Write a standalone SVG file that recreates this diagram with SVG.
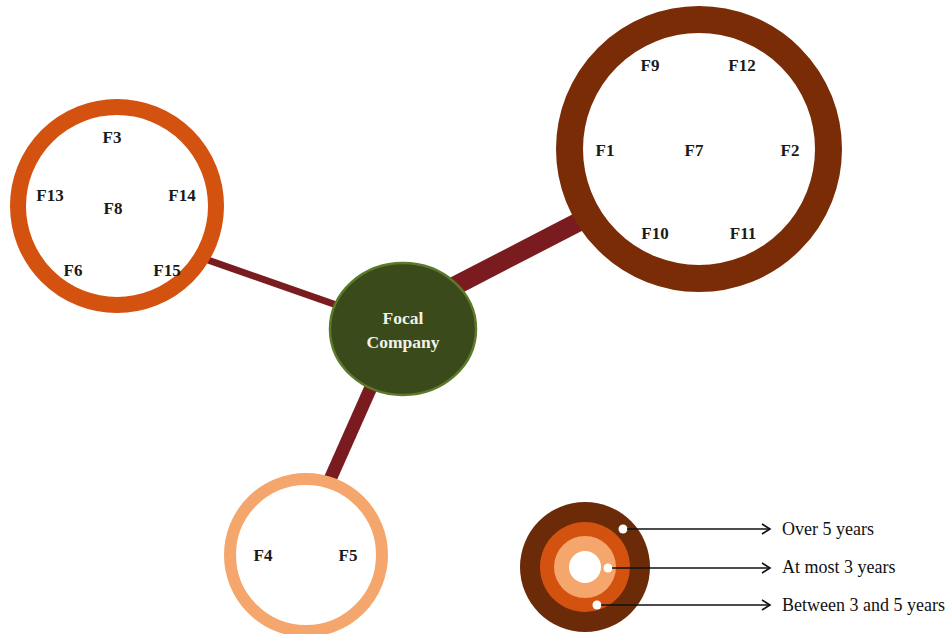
<svg xmlns="http://www.w3.org/2000/svg" width="951" height="634" viewBox="0 0 951 634">
<style>
.lbl{font-family:"Liberation Serif","Times New Roman",serif;font-size:17px;font-weight:bold;fill:#1a1a1a;text-anchor:middle}
.focal{font-family:"Liberation Serif","Times New Roman",serif;font-size:17.5px;font-weight:bold;fill:#F2F2E6;text-anchor:middle}
.leg{font-family:"Liberation Serif","Times New Roman",serif;font-size:18px;fill:#111}
.conn{stroke:#7A1C1F;stroke-linecap:butt;fill:none}
.arrow{stroke:#111;stroke-width:1.6;fill:none}
.dot{fill:#fff}
</style>
<defs>
<marker id="open" markerWidth="12" markerHeight="12" refX="10" refY="6" orient="auto" markerUnits="userSpaceOnUse">
<path d="M2,1 L10,6 L2,11" fill="none" stroke="#111" stroke-width="1.6"/>
</marker>
</defs>
<rect width="951" height="634" fill="#fff"/>
<g id="connectors">
<line class="conn" x1="205" y1="259" x2="345" y2="308" stroke-width="7"/>
<line class="conn" x1="445" y1="291" x2="590" y2="216" stroke-width="19"/>
<line class="conn" x1="376" y1="376" x2="328" y2="484" stroke-width="13"/>
</g>
<g id="node-left">
<circle cx="117" cy="206" r="99" fill="#fff" stroke="#D4520F" stroke-width="16"/>
<text class="lbl" x="112" y="143">F3</text>
<text class="lbl" x="50" y="201">F13</text>
<text class="lbl" x="182" y="201">F14</text>
<text class="lbl" x="113" y="214">F8</text>
<text class="lbl" x="73" y="276">F6</text>
<text class="lbl" x="167" y="276">F15</text>
</g>
<g id="node-right">
<circle cx="699" cy="149" r="129.5" fill="#fff" stroke="#7A2C07" stroke-width="27"/>
<text class="lbl" x="650" y="71">F9</text>
<text class="lbl" x="742" y="71">F12</text>
<text class="lbl" x="605" y="156">F1</text>
<text class="lbl" x="694" y="156">F7</text>
<text class="lbl" x="790" y="156">F2</text>
<text class="lbl" x="655" y="239">F10</text>
<text class="lbl" x="743" y="239">F11</text>
</g>
<g id="node-bottom">
<circle cx="306" cy="555" r="76" fill="#fff" stroke="#F4A66C" stroke-width="12"/>
<text class="lbl" x="263" y="561">F4</text>
<text class="lbl" x="348" y="561">F5</text>
</g>
<g id="node-focal">
<ellipse cx="403" cy="329" rx="73" ry="66" fill="#3A4A1B" stroke="#5C7A2A" stroke-width="2.5"/>
<text class="focal" x="403" y="324">Focal</text>
<text class="focal" x="403" y="348">Company</text>
</g>
<g id="legend">
<circle cx="585" cy="567" r="65" fill="#6B2A08"/>
<circle cx="585" cy="567" r="45" fill="#D4520F"/>
<circle cx="585" cy="567" r="31" fill="#F4A66C"/>
<circle cx="585" cy="567" r="16" fill="#fff"/>
<circle class="dot" cx="623" cy="529" r="4.5"/>
<circle class="dot" cx="608" cy="568" r="4.5"/>
<circle class="dot" cx="597" cy="605" r="4.5"/>
<line class="arrow" x1="627" y1="529" x2="770" y2="529" marker-end="url(#open)"/>
<line class="arrow" x1="612" y1="568" x2="770" y2="568" marker-end="url(#open)"/>
<line class="arrow" x1="601" y1="605" x2="770" y2="605" marker-end="url(#open)"/>
<text class="leg" x="782" y="535">Over 5 years</text>
<text class="leg" x="782" y="573">At most 3 years</text>
<text class="leg" x="782" y="611">Between 3 and 5 years</text>
</g>
</svg>
